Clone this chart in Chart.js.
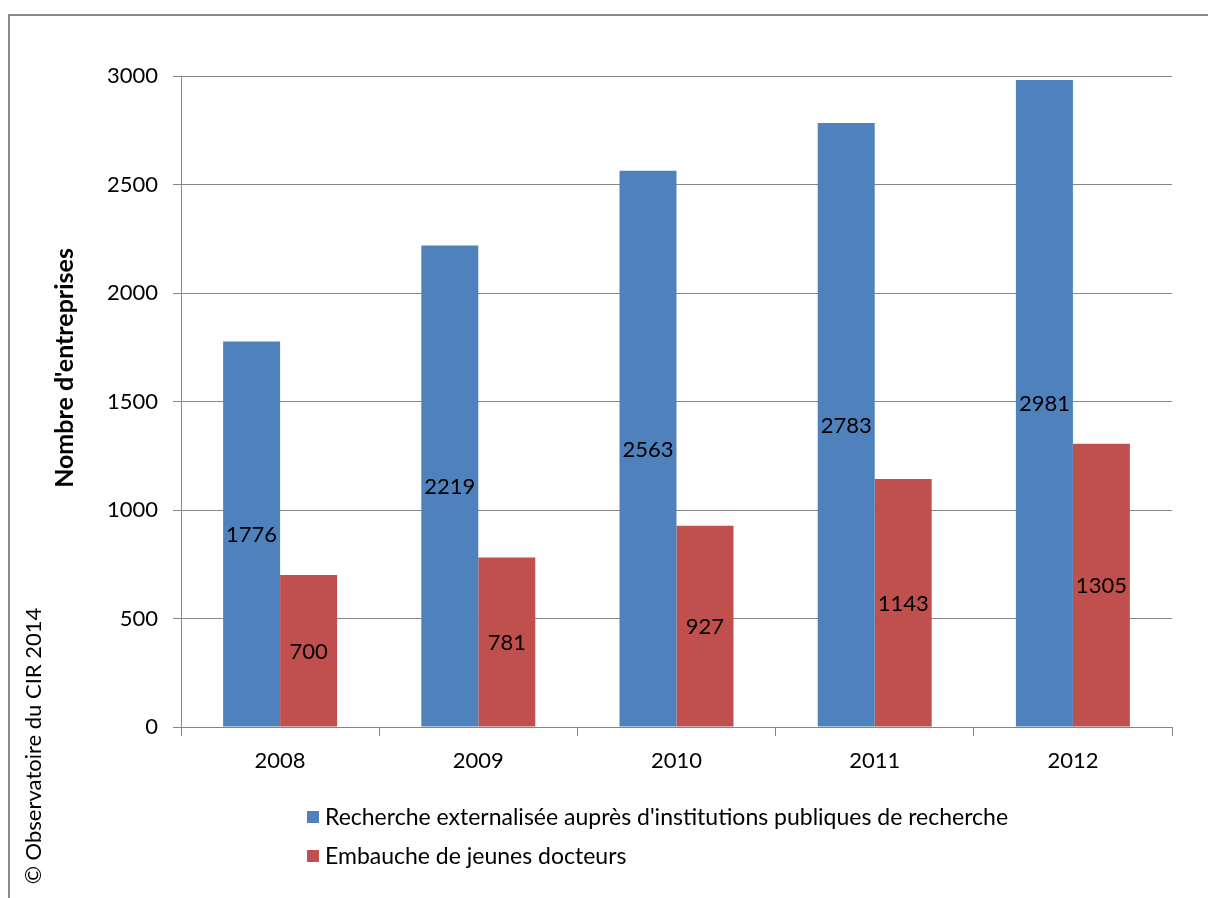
<!DOCTYPE html>
<html>
<head>
<meta charset="utf-8">
<script src="https://cdn.jsdelivr.net/npm/chart.js@4/dist/chart.umd.min.js"></script>
<style>
  html, body { margin: 0; padding: 0; background: #fff; }
  #wrap { width: 1208px; height: 898px; position: relative; }
</style>
</head>
<body>
<div id="wrap"><canvas id="cirChart" width="1208" height="898"></canvas></div>
<script>
// data
const years = ['2008', '2009', '2010', '2011', '2012'];
const rechercheExt = [1776, 2219, 2563, 2783, 2981];
const embaucheDocteurs = [700, 781, 927, 1143, 1305];
const seriesNames = [
    "Recherche externalisée auprès d'institutions publiques de recherche",
    'Embauche de jeunes docteurs'
];
const yTicks = [0, 500, 1000, 1500, 2000, 2500, 3000];

const FONT = 'Lato, "Open Sans", sans-serif';
const GRID = '#868686';

// draws values in the middle of each bar, the side texts, the legend and the frame
const extrasPlugin = {
    id: 'extras',
    afterDatasetsDraw(chart) {
        const ctx = chart.ctx;
        ctx.save();
        ctx.fillStyle = '#000';
        ctx.font = '22px ' + FONT;
        ctx.textAlign = 'center';
        ctx.textBaseline = 'middle';
        chart.data.datasets.forEach((ds, i) => {
            chart.getDatasetMeta(i).data.forEach((bar, j) => {
                ctx.fillText(String(ds.data[j]), bar.x, (bar.y + bar.base) / 2 + 1);
            });
        });
        ctx.restore();
    },
    afterDraw(chart) {
        const ctx = chart.ctx;
        ctx.save();

        // frame
        ctx.strokeStyle = '#8c8c8c';
        ctx.lineWidth = 2;
        ctx.beginPath();
        ctx.moveTo(9, 898);
        ctx.lineTo(9, 15);
        ctx.lineTo(1208, 15);
        ctx.stroke();

        // y title
        ctx.fillStyle = '#000';
        ctx.textAlign = 'center';
        ctx.textBaseline = 'middle';
        ctx.save();
        ctx.translate(65, 368);
        ctx.rotate(-Math.PI / 2);
        ctx.font = 'bold 25px ' + FONT;
        ctx.fillText("Nombre d'entreprises", 0, 0);
        ctx.restore();

        // copyright
        ctx.save();
        ctx.translate(34, 746);
        ctx.rotate(-Math.PI / 2);
        ctx.font = '22px ' + FONT;
        ctx.fillText('© Observatoire du CIR 2014', 0, 0);
        ctx.restore();

        // legend, one item per line
        ctx.textAlign = 'left';
        ctx.font = '23px ' + FONT;
        chart.data.datasets.forEach((ds, i) => {
            const y = 817 + i * 39;
            ctx.fillStyle = ds.backgroundColor;
            ctx.fillRect(307, y - 6, 12, 12);
            ctx.fillStyle = '#000';
            ctx.fillText(ds.label, 325, y + 1);
        });

        ctx.restore();
    }
};

const ctx = document.getElementById('cirChart').getContext('2d');
const chart = new Chart(ctx, {
    type: 'bar',
    data: {
        labels: years,
        datasets: [{
            label: seriesNames[0],
            data: rechercheExt,
            backgroundColor: '#4F81BD',
            barPercentage: 1.0,
            categoryPercentage: 0.575
        }, {
            label: seriesNames[1],
            data: embaucheDocteurs,
            backgroundColor: '#C0504D',
            barPercentage: 1.0,
            categoryPercentage: 0.575
        }]
    },
    options: {
        responsive: false,
        animation: false,
        layout: {
            padding: { top: 76, right: 36, bottom: 0, left: 0 }
        },
        plugins: {
            legend: { display: false },
            tooltip: { enabled: false }
        },
        scales: {
            x: {
                afterFit(scale) { scale.height = 898 - 727; },
                grid: {
                    display: true,
                    drawOnChartArea: false,
                    drawTicks: true,
                    tickLength: 9,
                    color: GRID,
                    offset: true
                },
                border: { color: GRID, width: 1 },
                ticks: {
                    color: '#000',
                    font: { family: FONT, size: 22 },
                    padding: 12
                }
            },
            y: {
                min: 0,
                max: 3000,
                afterFit(scale) { scale.width = 181; },
                afterBuildTicks(scale) {
                    scale.ticks = yTicks.map(v => ({ value: v }));
                },
                grid: {
                    color: GRID,
                    tickLength: 8
                },
                border: { color: GRID, width: 1 },
                ticks: {
                    color: '#000',
                    font: { family: FONT, size: 22 },
                    padding: 15,
                    callback: v => String(v)
                }
            }
        }
    },
    plugins: [extrasPlugin]
});
</script>
</body>
</html>
